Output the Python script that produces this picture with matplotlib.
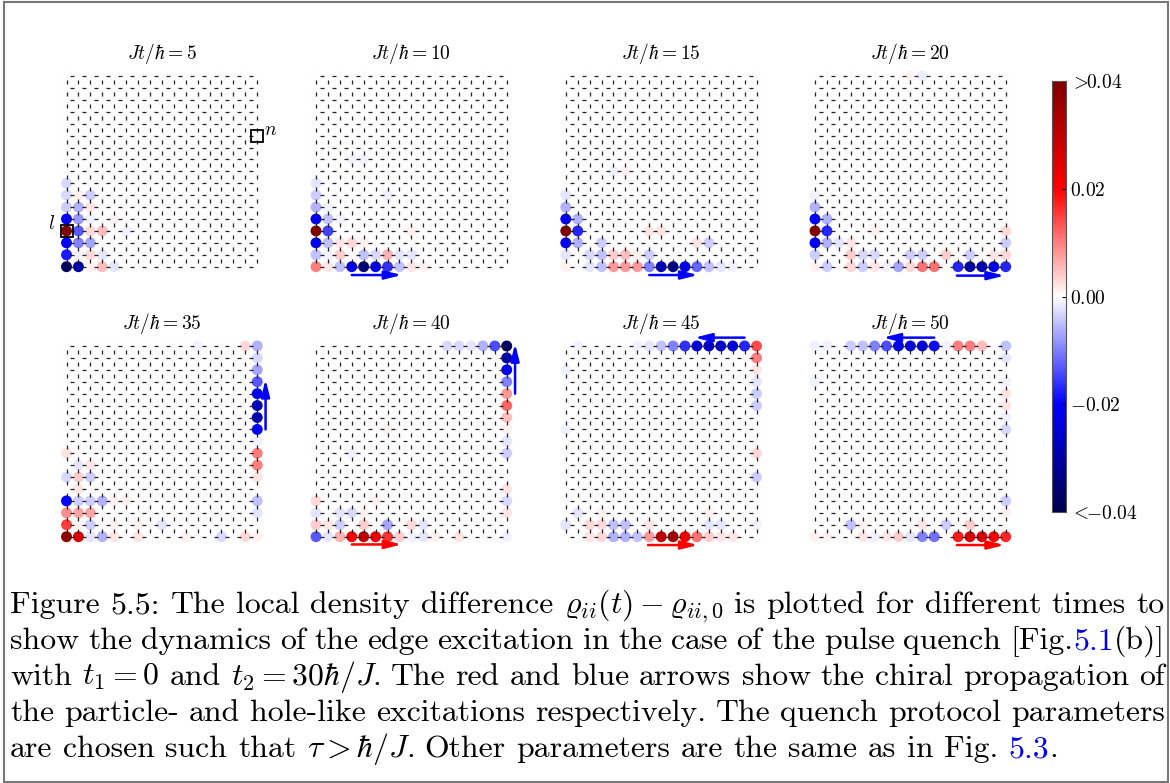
import numpy as np
import matplotlib
matplotlib.use("Agg")
import matplotlib.pyplot as plt
import matplotlib.colors as mcolors
from matplotlib.patches import Rectangle

plt.rcParams["mathtext.fontset"] = "cm"
plt.rcParams["font.family"] = "serif"
plt.rcParams["font.serif"] = ["cmr10", "DejaVu Serif"]
plt.rcParams["axes.unicode_minus"] = False
plt.rcParams["axes.formatter.use_mathtext"] = True

# Data: lattice size, times and nonzero density differences (col, row, value)
N = 17
TIMES = [5, 10, 15, 20, 35, 40, 45, 50]

rho_t5 = [
    (0, 0, -0.038), (0, 1, -0.018), (0, 2, -0.021), (0, 3, 0.04), (0, 4, -0.021),
    (0, 5, -0.004), (0, 6, -0.003), (0, 7, -0.003),
    (1, 0, -0.03), (1, 1, -0.001), (1, 2, -0.01), (1, 3, -0.013), (1, 4, -0.008),
    (1, 5, -0.006), (1, 6, 0.001),
    (2, 0, 0.001), (2, 1, 0.003), (2, 2, -0.007), (2, 3, 0.003), (2, 4, -0.001),
    (2, 5, 0.002), (2, 6, -0.004),
    (3, 0, 0.005), (3, 1, -0.002), (3, 3, 0.005),
    (4, 0, -0.002), (4, 4, 0.001), (5, 3, -0.001),
]
rho_t10 = [
    (0, 0, 0.01), (0, 1, -0.005), (0, 2, -0.021), (0, 3, 0.04), (0, 4, -0.021),
    (0, 5, -0.006), (0, 6, -0.004), (0, 7, -0.002),
    (1, 0, 0.002), (1, 1, -0.001), (1, 2, -0.005), (1, 3, -0.015), (1, 4, -0.005),
    (1, 5, -0.001),
    (2, 0, -0.005), (2, 1, 0.004), (2, 2, 0.002), (2, 4, -0.001),
    (3, 0, -0.022), (3, 2, 0.003), (4, 0, -0.035), (4, 1, -0.005), (4, 2, 0.001),
    (5, 0, -0.022), (5, 1, -0.003), (6, 0, -0.016), (6, 1, 0.006),
    (7, 0, -0.005), (7, 1, -0.002), (8, 0, 0.002), (8, 1, -0.002), (9, 0, 0.001),
    (3, 9, -0.0012), (4, 9, -0.001), (6, 6, -0.001), (8, 3, 0.001),
]
rho_t15 = [
    (0, 0, 0.001), (0, 1, -0.002), (0, 2, -0.021), (0, 3, 0.04), (0, 4, -0.021),
    (0, 5, -0.006), (0, 6, -0.002),
    (1, 2, -0.006), (1, 3, -0.017), (1, 4, -0.006),
    (2, 0, -0.002), (2, 1, -0.003), (3, 0, -0.005), (3, 1, -0.005), (3, 2, -0.004),
    (4, 0, 0.008), (4, 1, 0.004), (5, 0, 0.008), (5, 1, 0.005), (6, 0, 0.008),
    (6, 1, 0.001), (7, 0, -0.01), (7, 1, -0.004), (7, 3, 0.002),
    (8, 0, -0.028), (8, 3, 0.002), (9, 0, -0.034), (10, 0, -0.022),
    (11, 0, -0.012), (11, 2, 0.002), (12, 0, -0.005), (12, 2, -0.004),
    (13, 0, -0.002), (14, 0, -0.001),
    (4, 8, -0.001), (5, 8, 0.001),
]
rho_t20 = [
    (0, 0, 0.001), (1, 0, -0.004), (3, 0, 0.003), (4, 0, -0.004), (5, 0, 0.002),
    (6, 0, -0.001), (7, 0, -0.007), (8, 0, 0.003), (9, 0, 0.011), (10, 0, 0.011),
    (12, 0, -0.017), (13, 0, -0.03), (14, 0, -0.028), (15, 0, -0.022), (16, 0, -0.017),
    (0, 1, -0.004), (3, 1, 0.004), (4, 1, -0.003), (5, 1, -0.003), (8, 1, -0.004),
    (9, 1, -0.004), (11, 1, 0.004), (13, 1, -0.004), (15, 1, 0.002), (16, 1, 0.003),
    (0, 2, -0.021), (1, 2, -0.006), (2, 2, -0.002), (3, 2, 0.002), (16, 2, -0.004),
    (0, 3, 0.04), (1, 3, -0.017), (5, 3, 0.001), (16, 3, 0.003),
    (0, 4, -0.021), (1, 4, -0.006), (0, 5, -0.006), (0, 6, -0.001),
    (8, 16, 0.001), (9, 16, -0.0015),
]
rho_t35 = [
    (16, 16, -0.006), (16, 15, -0.003), (16, 14, -0.007), (16, 13, -0.013),
    (16, 12, -0.022), (16, 11, -0.028), (16, 10, -0.029), (16, 9, -0.02),
    (16, 8, -0.001), (16, 7, 0.01), (16, 6, 0.01), (16, 5, 0.002), (16, 3, -0.005),
    (16, 2, -0.002), (15, 16, 0.003), (11, 16, -0.001),
    (0, 0, 0.038), (1, 0, 0.026), (2, 0, -0.002), (3, 0, -0.006), (4, 0, 0.002),
    (6, 0, 0.002), (10, 0, 0.001), (13, 0, -0.003), (15, 0, 0.003), (16, 0, 0.001),
    (0, 1, 0.015), (1, 1, 0.001), (2, 1, -0.004), (4, 1, 0.001), (6, 1, 0.001),
    (8, 1, -0.002),
    (0, 2, 0.009), (1, 2, 0.007), (2, 2, 0.007),
    (0, 3, -0.02), (1, 3, -0.004), (2, 3, -0.004), (3, 3, -0.006), (4, 3, 0.001),
    (5, 3, 0.001), (1, 4, 0.002),
    (0, 5, -0.003), (1, 5, 0.004), (2, 5, -0.004), (1, 6, -0.002), (2, 6, 0.002),
    (0, 7, 0.002),
]
rho_t40 = [
    (16, 16, -0.038), (16, 15, -0.03), (16, 14, -0.022), (16, 13, -0.01),
    (16, 12, 0.008), (16, 11, 0.012), (16, 10, 0.005), (16, 9, 0.001),
    (16, 8, -0.002), (16, 7, -0.004), (16, 4, 0.002), (16, 3, -0.003),
    (16, 2, 0.002), (16, 0, -0.001),
    (15, 16, -0.014), (14, 16, -0.006), (13, 16, -0.002), (12, 16, -0.003),
    (11, 16, -0.003),
    (0, 0, -0.013), (1, 0, -0.002), (2, 0, 0.006), (3, 0, 0.02), (4, 0, 0.03),
    (5, 0, 0.022), (6, 0, 0.016), (7, 0, 0.004), (8, 0, -0.001), (9, 0, -0.002),
    (10, 0, 0.001), (12, 0, 0.002),
    (0, 1, 0.004), (1, 1, 0.002), (2, 1, -0.004), (4, 1, 0.004), (6, 1, -0.007),
    (8, 1, 0.003), (9, 1, -0.002),
    (0, 2, -0.002), (2, 2, -0.002), (3, 2, -0.003), (4, 2, 0.001),
    (0, 3, 0.003), (5, 3, 0.001), (3, 7, -0.001), (6, 9, 0.001),
]
rho_t45 = [
    (16, 16, 0.014), (15, 16, -0.017), (14, 16, -0.024), (13, 16, -0.026),
    (12, 16, -0.026), (11, 16, -0.024), (10, 16, -0.016), (9, 16, -0.01),
    (8, 16, -0.005), (7, 16, -0.002), (6, 16, -0.001), (1, 16, -0.001),
    (16, 15, 0.01), (16, 14, 0.002), (16, 13, -0.002), (16, 12, -0.004),
    (16, 11, -0.004), (16, 7, 0.003), (16, 5, -0.004), (16, 1, -0.001),
    (2, 0, 0.002), (3, 0, 0.003), (4, 0, -0.006), (5, 0, -0.006), (6, 0, -0.005),
    (7, 0, 0.008), (8, 0, 0.03), (9, 0, 0.035), (10, 0, 0.022), (11, 0, 0.011),
    (12, 0, 0.004), (13, 0, 0.002), (14, 0, 0.002),
    (0, 1, -0.002), (2, 1, 0.003), (3, 1, 0.003), (4, 1, -0.005), (5, 1, -0.005),
    (7, 1, 0.002), (12, 1, -0.002), (13, 1, -0.002),
    (1, 2, -0.002), (3, 2, 0.001), (12, 2, 0.001), (0, 9, -0.001), (0, 14, -0.001),
]
rho_t50 = [
    (0, 16, -0.001), (1, 16, -0.001), (3, 16, -0.004), (4, 16, -0.005),
    (5, 16, -0.01), (6, 16, -0.014), (7, 16, -0.022), (8, 16, -0.024),
    (9, 16, -0.024), (10, 16, -0.019), (11, 16, -0.001), (12, 16, 0.01),
    (13, 16, 0.01), (14, 16, 0.005), (16, 16, -0.005),
    (16, 15, -0.002), (16, 13, -0.001), (16, 12, 0.002), (16, 11, 0.002),
    (16, 10, -0.001), (16, 9, -0.003), (16, 3, -0.004), (16, 2, 0.001),
    (0, 0, 0.001), (1, 0, 0.001), (4, 0, 0.002), (5, 0, -0.001), (6, 0, 0.002),
    (7, 0, 0.004), (8, 0, -0.002), (9, 0, -0.01), (10, 0, -0.011), (12, 0, 0.018),
    (13, 0, 0.026), (14, 0, 0.026), (15, 0, 0.02), (16, 0, 0.017),
    (3, 1, -0.005), (4, 1, 0.001), (9, 1, 0.002), (11, 1, -0.004), (13, 1, 0.004),
    (0, 13, -0.001),
]
PANELS = [rho_t5, rho_t10, rho_t15, rho_t20, rho_t35, rho_t40, rho_t45, rho_t50]

# propagation arrows per panel: (x_start, y_start, x_end, y_end, colour)
ARROWS = [
    [],
    [(3.0, -0.7, 7.2, -0.7, "blue")],
    [(7.0, -0.7, 11.1, -0.7, "blue")],
    [(11.9, -0.75, 15.9, -0.75, "blue")],
    [(16.7, 9.0, 16.7, 13.2, "blue")],
    [(3.0, -0.65, 7.2, -0.65, "red"), (16.7, 12.0, 16.7, 16.2, "blue")],
    [(6.9, -0.7, 11.1, -0.7, "red"), (15.0, 16.7, 10.8, 16.7, "blue")],
    [(10.0, 16.7, 5.7, 16.7, "blue"), (11.9, -0.7, 15.9, -0.7, "red")],
]
SITE_L = (0, 3)
SITE_N = (16, 11)

CBAR_TICKS = [-0.04, -0.02, 0.0, 0.02, 0.04]
CBAR_LABELS = [r"$<\!\!{-}0.04$", r"${-}0.02$", r"$0.00$", r"$0.02$", r"$>\!\!0.04$"]

CAPTION = [
    r"Figure 5.5: The local density difference $\varrho_{ii}(t)-\varrho_{ii,0}$ is plotted for different times to",
    r"show the dynamics of the edge excitation in the case of the pulse quench [Fig.|5.1|(b)]",
    r"with $t_1=0$ and $t_2=30\hbar/J$. The red and blue arrows show the chiral propagation of",
    r"the particle- and hole-like excitations respectively. The quench protocol parameters",
    r"are chosen such that $\tau>\hbar/J$. Other parameters are the same as in Fig. |5.3|.",
]

# Layout (pixels)
W, H = 1170, 783
U = 11.92
COL_X0 = [66.5, 316.0, 565.8, 815.0]
ROW_Y0 = [266.7, 536.7]

fig = plt.figure(figsize=(W / 100, H / 100), dpi=100)
norm = mcolors.Normalize(vmin=-0.04, vmax=0.04)
cmap = plt.get_cmap("seismic")

xs, ys = np.meshgrid(np.arange(N), np.arange(N))
hx, hy = np.meshgrid(np.arange(N - 1) + 0.5, np.arange(N))
vx, vy = np.meshgrid(np.arange(N), np.arange(N - 1) + 0.5)

for i, (t, sites) in enumerate(zip(TIMES, PANELS)):
    grid = np.zeros((N, N))
    for c, r, v in sites:
        grid[r, c] = v
    x0 = COL_X0[i % 4]
    y0 = ROW_Y0[i // 4]
    left = (x0 - U) / W
    bottom = (H - (y0 + U)) / H
    ax = fig.add_axes([left, bottom, 18 * U / W, 18 * U / H])
    ax.scatter(xs.ravel(), ys.ravel(), c=grid.ravel(), cmap=cmap, norm=norm,
               s=62, linewidths=0, zorder=1)
    ax.plot(hx.ravel(), hy.ravel(), ls="none", marker="_", ms=2.6, mew=0.9,
            color="#222222", zorder=2)
    ax.plot(vx.ravel(), vy.ravel(), ls="none", marker="|", ms=2.6, mew=0.9,
            color="#222222", zorder=2)
    for xa, ya, xb, yb, col in ARROWS[i]:
        ax.annotate("", xy=(xb, yb), xytext=(xa, ya),
                    arrowprops=dict(arrowstyle="-|>,head_length=1.0,head_width=0.25",
                                    color=col, lw=1.8, mutation_scale=10,
                                    shrinkA=0, shrinkB=0), zorder=3)
    ax.text(8, 17.44, r"$Jt/\hbar=%d$" % t, ha="center", va="baseline", fontsize=14)
    if i == 0:
        for (c, r) in (SITE_L, SITE_N):
            ax.plot([c], [r], marker="s", ms=8.8, mfc="none", mec="black", mew=1.3,
                    zorder=4)
        ax.text(SITE_L[0] - 0.95, SITE_L[1] + 0.15, r"$l$", ha="right",
                va="baseline", fontsize=14)
        ax.text(SITE_N[0] + 0.55, SITE_N[1] + 0.05, r"$n$", ha="left",
                va="baseline", fontsize=14, clip_on=False)
    ax.set_xlim(-1, 17)
    ax.set_ylim(-1, 17)
    ax.axis("off")

# Colorbar
cax = fig.add_axes([1052 / W, 1 - 512 / H, 14 / W, (512 - 81) / H])
sm = plt.cm.ScalarMappable(norm=norm, cmap=cmap)
cb = fig.colorbar(sm, cax=cax, ticks=CBAR_TICKS)
cb.ax.set_yticklabels(CBAR_LABELS, fontsize=14)
cb.ax.tick_params(direction="in", length=3, width=0.8, pad=3)
cb.outline.set_edgecolor("#555555")
cb.outline.set_linewidth(0.8)

# Caption, justified word by word
FS = 22.9
LINK = "#0000ee"
X_LEFT, X_RIGHT = 10, 1165
BASELINES = [613, 649, 685, 721, 757]
renderer = fig.canvas.get_renderer()
space_px = 0.333 * FS * 100 / 72

for li, line in enumerate(CAPTION):
    words = line.split(" ")
    word_arts = []
    total = 0
    for w in words:
        arts = []
        for k, seg in enumerate(w.split("|")):
            if not seg:
                continue
            a = fig.text(0, 1 - BASELINES[li] / H, seg, fontsize=FS, va="baseline",
                         color=LINK if k % 2 else "black")
            wpx = a.get_window_extent(renderer).width
            arts.append((a, wpx))
            total += wpx
        word_arts.append(arts)
    if li < len(CAPTION) - 1:
        gap = (X_RIGHT - X_LEFT - total) / (len(words) - 1)
    else:
        gap = space_px
    x = X_LEFT
    for arts in word_arts:
        for a, wpx in arts:
            a.set_x(x / W)
            x += wpx
        x += gap

# Frame around the whole figure
fig.add_artist(Rectangle((3.5 / W, 1.5 / H), 1164.5 / W, 780 / H,
                         transform=fig.transFigure, fill=False,
                         ec="#777777", lw=1.5))

fig.savefig("out.png", dpi=100)
